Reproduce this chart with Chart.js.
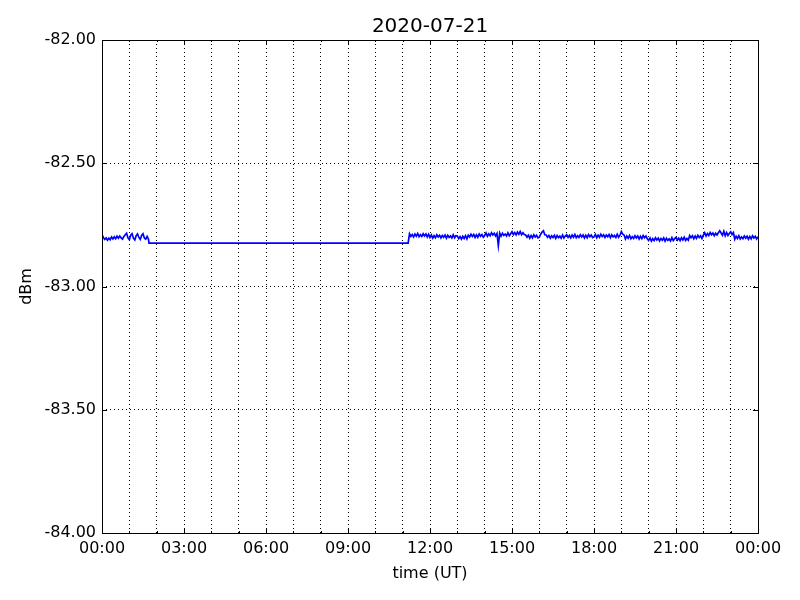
<!DOCTYPE html>
<html>
<head>
<meta charset="utf-8">
<script src="https://cdn.jsdelivr.net/npm/chart.js@4.4.1/dist/chart.umd.min.js"></script>
<style>
  html, body { margin: 0; padding: 0; background: #fff; }
  #wrap { width: 800px; height: 600px; }
</style>
</head>
<body>
<div id="wrap"><canvas id="myChart" width="800" height="600"></canvas></div>
<script>
// signal level for 2020-07-21, hours since 00:00 UT
const title = '2020-07-21'
const xLabels = ['00:00', '03:00', '06:00', '09:00', '12:00', '15:00', '18:00', '21:00', '00:00']
const yTicks = [-84, -83.5, -83, -82.5, -82]

// first noisy piece, 00:00 - 01:42, every 3 min
const startA = 0
const stepA = 0.05
const valuesA = [
  -82.790, -82.801, -82.809, -82.803, -82.812, -82.804, -82.810, -82.799, -82.807, -82.798,
  -82.806, -82.796, -82.804, -82.795, -82.803, -82.808, -82.797, -82.790, -82.784, -82.803,
  -82.810, -82.792, -82.786, -82.804, -82.811, -82.794, -82.787, -82.801, -82.809, -82.793,
  -82.786, -82.803, -82.808, -82.797, -82.808
]

// flat piece
const flatTimes = [1.72, 11.20]
const flatValues = [-82.824, -82.824]

// second noisy piece, 11:15 - 24:00, every 3 min
const startB = 11.25
const stepB = 0.05
const valuesB = [
  // 11:15 - 12:00
  -82.786, -82.797, -82.789, -82.799, -82.787, -82.796, -82.785, -82.798, -82.790, -82.797,
  -82.786, -82.795, -82.787, -82.799, -82.788,
  // 12
  -82.801, -82.791, -82.804, -82.794, -82.802, -82.790, -82.799, -82.792, -82.803, -82.793,
  -82.800, -82.791, -82.804, -82.792, -82.801, -82.795, -82.803, -82.790, -82.802, -82.794,
  // 13
  -82.795, -82.806, -82.798, -82.808, -82.796, -82.805, -82.794, -82.807, -82.792, -82.799,
  -82.788, -82.797, -82.789, -82.801, -82.790, -82.800, -82.787, -82.796, -82.789, -82.800,
  // 14
  -82.793, -82.783, -82.796, -82.786, -82.794, -82.782, -82.791, -82.784, -82.795, -82.785,
  -82.834, -82.783, -82.796, -82.784, -82.793, -82.787, -82.795, -82.782, -82.794, -82.786,
  // 15
  -82.778, -82.789, -82.781, -82.791, -82.779, -82.788, -82.777, -82.790, -82.782, -82.789,
  -82.791, -82.800, -82.792, -82.804, -82.793, -82.803, -82.790, -82.799, -82.792, -82.803,
  // 16
  -82.800, -82.788, -82.779, -82.774, -82.790, -82.791, -82.800, -82.793, -82.804, -82.794,
  -82.801, -82.792, -82.805, -82.793, -82.802, -82.796, -82.804, -82.791, -82.803, -82.795,
  // 17
  -82.790, -82.801, -82.793, -82.803, -82.791, -82.800, -82.789, -82.802, -82.794, -82.801,
  -82.790, -82.799, -82.791, -82.803, -82.792, -82.802, -82.789, -82.798, -82.791, -82.802,
  // 18
  -82.799, -82.789, -82.802, -82.792, -82.800, -82.788, -82.797, -82.790, -82.801, -82.791,
  -82.798, -82.789, -82.802, -82.790, -82.799, -82.793, -82.801, -82.788, -82.800, -82.792,
  // 19
  -82.777, -82.788, -82.791, -82.807, -82.795, -82.804, -82.793, -82.806, -82.798, -82.805,
  -82.794, -82.803, -82.795, -82.807, -82.796, -82.806, -82.793, -82.802, -82.795, -82.806,
  // 20
  -82.813, -82.803, -82.816, -82.806, -82.814, -82.802, -82.811, -82.804, -82.815, -82.805,
  -82.812, -82.803, -82.816, -82.804, -82.813, -82.807, -82.815, -82.802, -82.814, -82.806,
  // 21
  -82.801, -82.812, -82.804, -82.814, -82.802, -82.811, -82.800, -82.813, -82.805, -82.812,
  -82.793, -82.802, -82.794, -82.806, -82.795, -82.805, -82.792, -82.801, -82.794, -82.805,
  // 22
  -82.792, -82.782, -82.795, -82.785, -82.793, -82.781, -82.790, -82.783, -82.794, -82.784,
  -82.791, -82.782, -82.774, -82.783, -82.792, -82.776, -82.794, -82.781, -82.793, -82.785,
  // 23 - 24
  -82.778, -82.789, -82.781, -82.808, -82.796, -82.805, -82.794, -82.807, -82.799, -82.806,
  -82.795, -82.804, -82.796, -82.808, -82.797, -82.807, -82.794, -82.803, -82.796, -82.807,
  -82.798
]

let puntos = []
valuesA.forEach((v, i) => puntos.push({x: startA + i * stepA, y: v}))
flatValues.forEach((v, i) => puntos.push({x: flatTimes[i], y: v}))
valuesB.forEach((v, i) => puntos.push({x: startB + i * stepB, y: v}))

Chart.defaults.color = '#000'
Chart.defaults.font.family = '"DejaVu Sans", sans-serif'
Chart.defaults.font.size = 16

// matplotlib style frame with inward ticks, title over the plot area
const marco = {
  id: 'marco',
  afterDraw(chart) {
    const ctx = chart.ctx
    const a = chart.chartArea
    const xs = chart.scales.x
    const ys = chart.scales.y
    ctx.save()
    ctx.strokeStyle = '#000'
    ctx.lineWidth = 1
    ctx.beginPath()
    for (let h = 0; h <= 24; h++) {
      const px = Math.round(xs.getPixelForValue(h)) + 0.5
      const len = h % 3 === 0 ? 5 : 2
      ctx.moveTo(px, a.bottom); ctx.lineTo(px, a.bottom - len)
      ctx.moveTo(px, a.top); ctx.lineTo(px, a.top + len)
    }
    yTicks.forEach(v => {
      const py = Math.round(ys.getPixelForValue(v)) + 0.5
      ctx.moveTo(a.left, py); ctx.lineTo(a.left + 5, py)
      ctx.moveTo(a.right, py); ctx.lineTo(a.right - 5, py)
    })
    ctx.stroke()
    ctx.strokeRect(Math.round(a.left) + 0.5, Math.round(a.top) + 0.5,
      Math.round(a.right - a.left), Math.round(a.bottom - a.top))

    ctx.fillStyle = '#000'
    ctx.font = '20px "DejaVu Sans", sans-serif'
    ctx.textAlign = 'center'
    ctx.textBaseline = 'middle'
    ctx.fillText(title, (a.left + a.right) / 2, 27)
    ctx.restore()
  }
}

const config = {
  type: 'line',
  data: {
    datasets: [{
      data: puntos,
      borderColor: '#0000ff',
      borderWidth: 1.7,
      pointRadius: 0,
      tension: 0,
      fill: false
    }]
  },
  options: {
    responsive: false,
    animation: false,
    parsing: false,
    layout: { padding: { left: 0, right: 42, top: 40, bottom: 0 } },
    plugins: {
      legend: { display: false },
      tooltip: { enabled: false },
      title: { display: false }
    },
    scales: {
      x: {
        type: 'linear',
        min: 0,
        max: 24,
        afterFit: s => { s.height = 67 },
        ticks: {
          stepSize: 1,
          autoSkip: false,
          maxRotation: 0,
          padding: 6,
          callback: v => (v % 3 === 0 ? xLabels[v / 3] : '')
        },
        grid: { color: '#000', lineWidth: 1, drawTicks: false },
        border: { display: false, dash: [1, 3] },
        title: { display: true, text: 'time (UT)', padding: { top: 0, bottom: 17 } }
      },
      y: {
        min: -84,
        max: -82,
        afterFit: s => { s.width = 102 },
        afterBuildTicks: s => { s.ticks = yTicks.map(v => ({value: v})) },
        ticks: {
          padding: 6,
          callback: v => v.toFixed(2)
        },
        grid: { color: '#000', lineWidth: 1, drawTicks: false },
        border: { display: false, dash: [1, 3] },
        title: { display: true, text: 'dBm', padding: { top: 17, bottom: 0 } }
      }
    }
  },
  plugins: [marco]
}

const myChart = new Chart(document.getElementById('myChart'), config)
</script>
</body>
</html>
